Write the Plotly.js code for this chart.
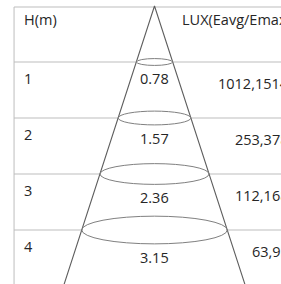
<!DOCTYPE html>
<html>
<head>
<meta charset="utf-8">
<script src="https://cdn.plot.ly/plotly-3.0.1.min.js"></script>
<style>html,body{margin:0;padding:0;background:#fff}#chart{width:281px;height:284px}</style>
</head>
<body>
<div id="chart"></div>
<script>
// ---- data ----
const heights = [1, 2, 3, 4];
const diameters = [0.78, 1.57, 2.36, 3.15];
const luxValues = ['1012,1514', '253,378', '112,168', '63,95'];
const headerHeight = 'H(m)';
const headerLux = 'LUX(Eavg/Emax)';

// ---- layout constants ----
const X_RANGE = [-3.344, 2.738];
const Y_RANGE = [4.964, -0.107];
const TABLE_LEFT = -3.04;
const TABLE_TOP = 0.018;
const FLAT = 0.157;
const FONT = {family: 'Open Sans, sans-serif', size: 14.5, color: '#262626'};
const GRID = {color: '#bdbdbd', width: 1};
const CONE = {color: '#5e5e5e', width: 1.1};
const ELL = {color: '#808080', width: 1};

const nLast = heights.length - 1;
const slope = diameters[nLast] / 2 / heights[nLast];
const hEnd = 5.3;

const traces = [{
  x: [-slope * hEnd, 0, slope * hEnd],
  y: [hEnd, 0, hEnd],
  mode: 'lines', line: CONE, hoverinfo: 'skip', showlegend: false
}];

const shapes = [];
// table border
shapes.push({type: 'line', xref: 'x', yref: 'y', x0: TABLE_LEFT, x1: X_RANGE[1] + 1, y0: TABLE_TOP, y1: TABLE_TOP, line: GRID, layer: 'below'});
shapes.push({type: 'line', xref: 'x', yref: 'y', x0: TABLE_LEFT, x1: TABLE_LEFT, y0: TABLE_TOP, y1: hEnd, line: GRID, layer: 'below'});

const annotations = [];
heights.forEach((h, i) => {
  const r = diameters[i] / 2;
  const ry = r * FLAT;
  shapes.push({type: 'line', xref: 'x', yref: 'y', x0: TABLE_LEFT, x1: -r, y0: h, y1: h, line: GRID, layer: 'below'});
  shapes.push({type: 'line', xref: 'x', yref: 'y', x0: r, x1: X_RANGE[1] + 1, y0: h, y1: h, line: GRID, layer: 'below'});
  shapes.push({type: 'circle', xref: 'x', yref: 'y', x0: -r, x1: r, y0: h - ry, y1: h + ry, line: ELL});
  annotations.push({xref: 'x', yref: 'y', x: -2.87, y: h + 0.3, text: String(h), showarrow: false, xanchor: 'left', yanchor: 'middle', font: FONT});
  annotations.push({xref: 'x', yref: 'y', x: 0, y: h + ry + 0.24, text: diameters[i].toFixed(2), showarrow: false, xanchor: 'center', yanchor: 'middle', font: FONT});
  annotations.push({xref: 'paper', yref: 'y', x: 1.037, y: h + 0.38, text: luxValues[i], showarrow: false, xanchor: 'right', yanchor: 'middle', font: FONT});
});
annotations.push({xref: 'x', yref: 'y', x: -2.87, y: 0.25, text: headerHeight, showarrow: false, xanchor: 'left', yanchor: 'middle', font: FONT});
annotations.push({xref: 'x', yref: 'y', x: 0.545, y: 0.25, text: headerLux, showarrow: false, xanchor: 'left', yanchor: 'middle', font: FONT});

const layout = {
  width: 281, height: 284,
  margin: {l: 0, r: 0, t: 0, b: 0, pad: 0},
  paper_bgcolor: '#fff', plot_bgcolor: '#fff',
  xaxis: {range: X_RANGE, visible: false, fixedrange: true},
  yaxis: {range: Y_RANGE, visible: false, fixedrange: true},
  shapes: shapes,
  annotations: annotations,
  showlegend: false
};
Plotly.newPlot('chart', traces, layout, {staticPlot: true, displayModeBar: false});
</script>
</body>
</html>
